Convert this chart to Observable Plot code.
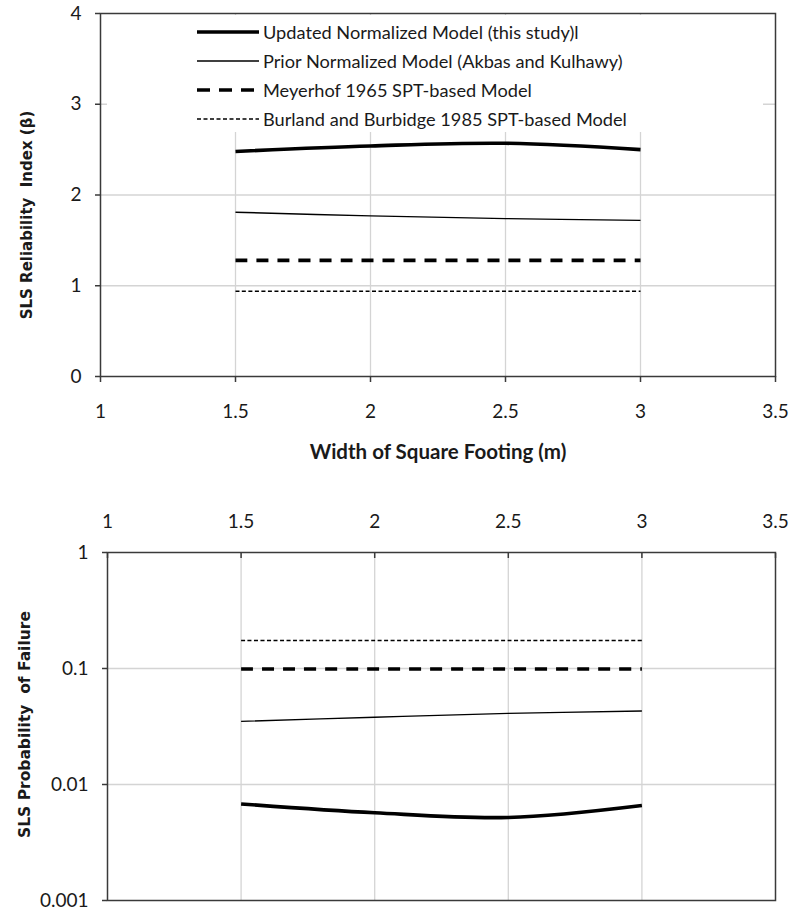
<!DOCTYPE html>
<html><head><meta charset="utf-8">
<script src="https://cdn.jsdelivr.net/npm/d3@7"></script>
<script src="https://cdn.jsdelivr.net/npm/@observablehq/plot@0.6"></script>
<style>
html,body{margin:0;padding:0;background:#fff}
#wrap{position:relative;width:789px;height:916px;overflow:hidden;font-family:Lato,"Open Sans",sans-serif;color:#1a1a1a}
#wrap svg{display:block}
#legend{position:absolute;left:107px;top:15px;width:656px;height:117px;background:#fff}
.item{position:absolute;left:0;height:26px;display:flex;align-items:center;white-space:nowrap}
.item svg{margin-left:90px;margin-right:4px}
.item span{font-size:18.2px;line-height:26px}
</style></head><body><div id="wrap"><div id="top"></div><div id="bottom"></div><div id="legend"></div></div>
<script>
// ---------- data ----------
const widths = [1.5, 2.0, 2.5, 3.0];
const seriesNames = [
  "Updated Normalized Model (this study)l",
  "Prior Normalized Model (Akbas and Kulhawy)",
  "Meyerhof 1965 SPT-based Model",
  "Burland and Burbidge 1985 SPT-based Model"
];
// reliability index (beta), top panel
const betaUpdated  = [2.48, 2.54, 2.57, 2.50];
const betaPrior    = [1.81, 1.77, 1.74, 1.72];
const betaMeyerhof = [1.28, 1.28, 1.28, 1.28];
const betaBurland  = [0.94, 0.94, 0.94, 0.94];
// probability of failure, bottom panel
const pfUpdated  = [0.0068, 0.0057, 0.0052, 0.0066];
const pfPrior    = [0.035, 0.038, 0.041, 0.043];
const pfMeyerhof = [0.099, 0.099, 0.099, 0.099];
const pfBurland  = [0.174, 0.174, 0.174, 0.174];

const xTicks = [1, 1.5, 2, 2.5, 3, 3.5];
const betaTicks = [0, 1, 2, 3, 4];
const pfTicks = [0.001, 0.01, 0.1, 1];
const xTitle = "Width of Square Footing (m)";
const yTitleTop = "SLS Reliability  Index (β)";
const yTitleBottom = "SLS Probability  of Failure";

// ---------- styles per series ----------
const styles = [
  {strokeWidth: 3.6, dash: null},
  {strokeWidth: 1.4, dash: null},
  {strokeWidth: 3.6, dash: "12,9"},
  {strokeWidth: 1.5, dash: "4,2.5"}
];

function rows(values) {
  const out = [];
  values.forEach((vals, s) => widths.forEach((w, i) => out.push({series: s, w, v: vals[i]})));
  return out;
}
const topRows = rows([betaUpdated, betaPrior, betaMeyerhof, betaBurland]);
const botRows = rows([pfUpdated, pfPrior, pfMeyerhof, pfBurland]);

function lineMarks(data) {
  return styles.map((st, s) => Plot.line(data.filter(d => d.series === s), {
    x: "w", y: "v", stroke: "#000", strokeWidth: st.strokeWidth,
    strokeDasharray: st.dash || undefined, strokeLinecap: "butt",
    curve: "catmull-rom"
  }));
}

const gridColor = "#d4d4d4";
const axisColor = "#3a3a3a";
const fontStyle = {fontFamily: "Lato, 'Open Sans', sans-serif", fontSize: "19px", color: "#1a1a1a", background: "#fff", overflow: "visible"};
const titleFont = "'DejaVu Sans', Verdana, sans-serif";

const topPlot = Plot.plot({
  width: 789, height: 490,
  marginLeft: 100, marginRight: 14, marginTop: 13, marginBottom: 114,
  style: fontStyle,
  x: {domain: [1, 3.5], label: null},
  y: {domain: [0, 4], label: null},
  marks: [
    Plot.gridX(xTicks.slice(1, -1), {stroke: gridColor, strokeOpacity: 1, strokeWidth: 1.3}),
    Plot.gridY(betaTicks.slice(1, -1), {stroke: gridColor, strokeOpacity: 1, strokeWidth: 1.3}),
    ...lineMarks(topRows),
    Plot.frame({stroke: axisColor, strokeWidth: 1.5}),
    Plot.axisX(xTicks, {tickSize: 6, tickPadding: 22, stroke: axisColor, strokeWidth: 1.5, tickFormat: d => String(d), fontSize: 19}),
    Plot.axisY(betaTicks, {tickSize: 5, tickPadding: 14, stroke: axisColor, strokeWidth: 1.5, tickFormat: d => String(d), fontSize: 19}),
    Plot.text([xTitle], {frameAnchor: "bottom", dy: 82, text: d => d, fontWeight: "bold", fontSize: 20.5}),
    Plot.text([yTitleTop], {frameAnchor: "left", textAnchor: "middle", rotate: -90, dx: -73, dy: 20, text: d => d,
      fontWeight: "bold", fontSize: 15, fontFamily: titleFont})
  ]
});

const botPlot = Plot.plot({
  width: 789, height: 426,
  marginLeft: 107, marginRight: 14, marginTop: 62, marginBottom: 16,
  style: fontStyle,
  x: {domain: [1, 3.5], label: null},
  y: {type: "log", domain: [0.001, 1], label: null},
  marks: [
    Plot.gridX(xTicks.slice(1, -1), {stroke: gridColor, strokeOpacity: 1, strokeWidth: 1.3}),
    Plot.gridY(pfTicks.slice(1, -1), {stroke: gridColor, strokeOpacity: 1, strokeWidth: 1.3}),
    ...lineMarks(botRows),
    Plot.frame({stroke: axisColor, strokeWidth: 1.5}),
    Plot.axisX(xTicks, {anchor: "top", tickSize: -5, tickPadding: 30, stroke: axisColor, strokeWidth: 1.5, tickFormat: d => String(d), fontSize: 19}),
    Plot.axisY(pfTicks, {tickSize: 5, tickPadding: 14, stroke: axisColor, strokeWidth: 1.5, tickFormat: d => String(d), fontSize: 19}),
    Plot.text([yTitleBottom], {frameAnchor: "left", textAnchor: "middle", rotate: -90, dx: -82, dy: -2, text: d => d,
      fontWeight: "bold", fontSize: 15.5, fontFamily: titleFont})
  ]
});

document.getElementById("top").appendChild(topPlot);
document.getElementById("bottom").appendChild(botPlot);

// ---------- legend ----------
const legend = d3.select("#legend");
const rowTops = [4, 33, 62, 91];
seriesNames.forEach((name, i) => {
  const item = legend.append("div").attr("class", "item").style("top", rowTops[i] + "px");
  const svg = item.append("svg").attr("width", 62).attr("height", 10);
  svg.append("line").attr("x1", 0).attr("x2", 62).attr("y1", 5).attr("y2", 5)
    .attr("stroke", "#000").attr("stroke-width", styles[i].strokeWidth)
    .attr("stroke-dasharray", i === 2 ? "13,9" : styles[i].dash);
  item.append("span").text(name);
});
</script>
</body></html>
